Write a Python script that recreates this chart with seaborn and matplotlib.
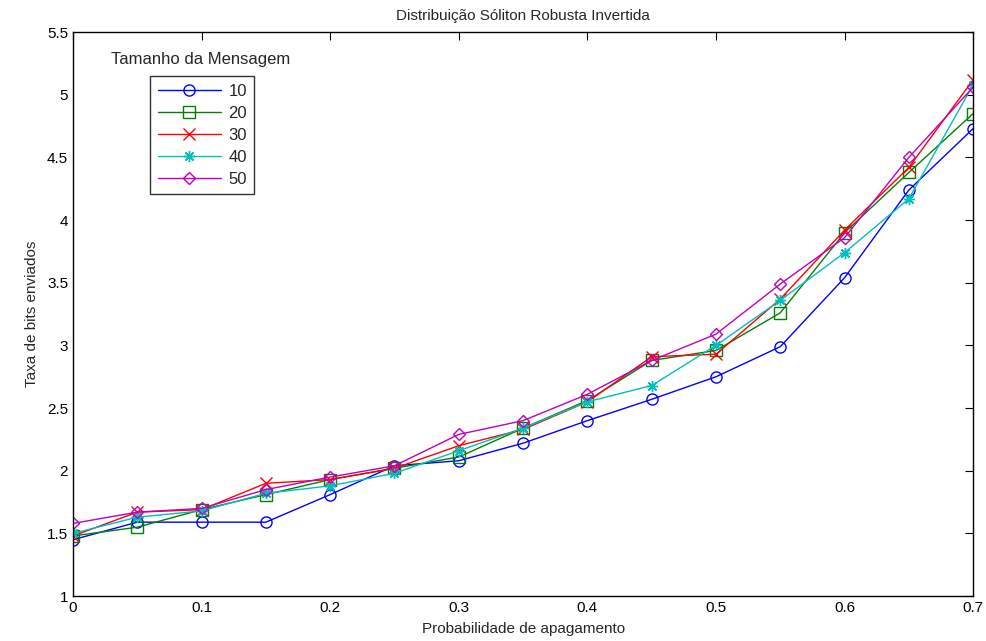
import matplotlib
matplotlib.use("Agg")
import matplotlib.pyplot as plt
import seaborn as sns
import pandas as pd

# Erasure probability on the x axis
prob = [0.0, 0.05, 0.10, 0.15, 0.20, 0.25, 0.30, 0.35, 0.40, 0.45, 0.50, 0.55, 0.60, 0.65, 0.70]

# Bit-rate sent for each message size
taxa_10 = [1.45, 1.59, 1.59, 1.59, 1.81, 2.04, 2.08, 2.22, 2.40, 2.57, 2.75, 2.99, 3.54, 4.24, 4.73]
taxa_20 = [1.48, 1.55, 1.69, 1.81, 1.93, 2.02, 2.11, 2.34, 2.56, 2.88, 2.96, 3.26, 3.90, 4.38, 4.85]
taxa_30 = [1.48, 1.67, 1.69, 1.90, 1.93, 2.02, 2.20, 2.33, 2.55, 2.91, 2.93, 3.37, 3.92, 4.42, 5.12]
taxa_40 = [1.50, 1.63, 1.68, 1.82, 1.88, 1.98, 2.16, 2.34, 2.55, 2.68, 3.00, 3.36, 3.74, 4.17, 5.08]
taxa_50 = [1.58, 1.67, 1.70, 1.85, 1.95, 2.04, 2.29, 2.40, 2.61, 2.88, 3.09, 3.49, 3.86, 4.50, 5.06]

tamanhos = ["10", "20", "30", "40", "50"]
series = [taxa_10, taxa_20, taxa_30, taxa_40, taxa_50]
cores = ["#0000ff", "#008000", "#ff0000", "#00bfbf", "#bf00bf"]
marcadores = ["o", "s", "x", (8, 2, 0), "D"]
tam_marc = [8, 8, 9, 8, 6.5]

sns.set_style("white")
plt.rcParams["font.family"] = ["Liberation Sans Narrow", "Liberation Sans", "DejaVu Sans"]

fig = plt.figure(figsize=(9.86, 6.41), dpi=100)
ax = fig.add_axes([0.074, 0.070, 0.913, 0.880])

for nome, valores, cor, mk, ms in zip(tamanhos, series, cores, marcadores, tam_marc):
    df = pd.DataFrame({"p": prob, "taxa": valores})
    sns.lineplot(data=df, x="p", y="taxa", ax=ax, color=cor, marker=mk,
                 markersize=ms, markerfacecolor="none", markeredgecolor=cor,
                 markeredgewidth=1.0, linewidth=1.0, label=nome)

ax.set_xlim(0, 0.7)
ax.set_ylim(1, 5.5)
ax.set_xticks([0, 0.1, 0.2, 0.3, 0.4, 0.5, 0.6, 0.7])
ax.set_xticklabels(["0", "0.1", "0.2", "0.3", "0.4", "0.5", "0.6", "0.7"])
ax.set_yticks([1, 1.5, 2, 2.5, 3, 3.5, 4, 4.5, 5, 5.5])
ax.set_yticklabels(["1", "1.5", "2", "2.5", "3", "3.5", "4", "4.5", "5", "5.5"])
ax.tick_params(direction="in", length=6, width=0.8, labelsize=11,
               top=True, right=True, colors="black")
for s in ax.spines.values():
    s.set_visible(True)
    s.set_color("black")
    s.set_linewidth(1.0)

ax.set_title("Distribuição Sóliton Robusta Invertida", fontsize=11, pad=9)
ax.set_xlabel("Probabilidade de apagamento", fontsize=11, labelpad=5)
ax.set_ylabel("Taxa de bits enviados", fontsize=11, labelpad=6)

leg = ax.legend(loc="upper left", bbox_to_anchor=(0.0856, 0.922), fontsize=12,
                frameon=True, fancybox=False, handlelength=3.8, handletextpad=0.45,
                borderpad=0.45, labelspacing=0.42, borderaxespad=0)
leg.get_frame().set_edgecolor("black")
leg.get_frame().set_linewidth(1.0)
ax.text(0.142, 0.938, "Tamanho da Mensagem", transform=ax.transAxes,
        ha="center", va="bottom", fontsize=12)

fig.savefig("out.png", dpi=100)
